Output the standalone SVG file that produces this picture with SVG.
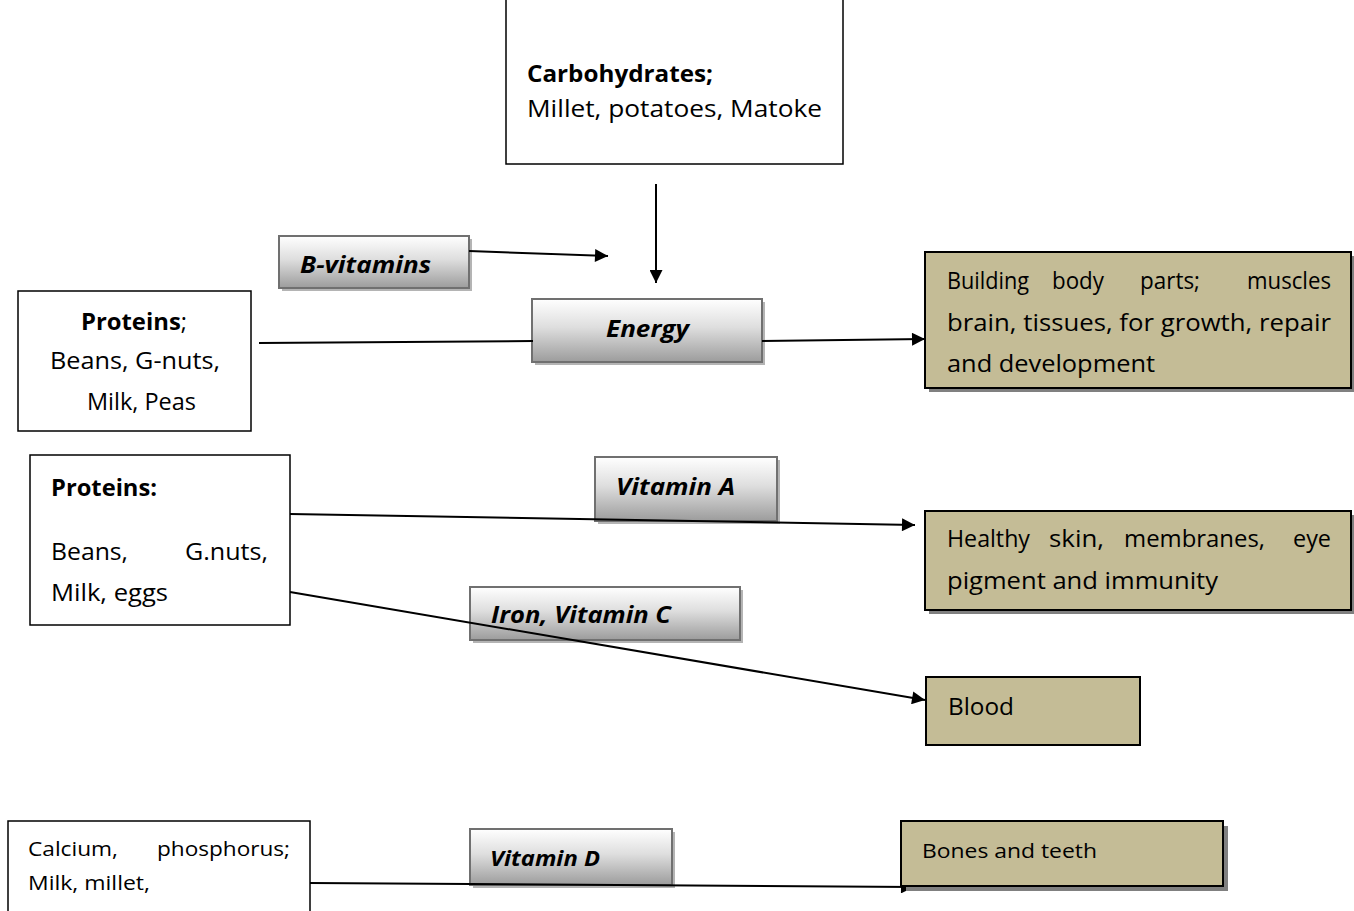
<svg xmlns="http://www.w3.org/2000/svg" width="1354" height="911" viewBox="0 0 1354 911">
<style>
.t{font-family:"Open Sans","Liberation Sans",sans-serif;font-size:23px;fill:#000}
.s{font-size:20px}
.b{font-weight:bold}
.bi{font-weight:bold;font-style:italic}
.wb{fill:#fff;stroke:#000;stroke-width:1.5}
.tan{fill:#c4bc96;stroke:#000;stroke-width:2}
.sh{fill:#808080}
.gb{fill:url(#g);stroke:#707070;stroke-width:2}
.gsh{fill:#b4b4b4}
.ln{stroke:#000;stroke-width:2;fill:none}
</style>
<defs>
<linearGradient id="g" x1="0" y1="0" x2="0" y2="1">
<stop offset="0" stop-color="#ffffff"/>
<stop offset="0.45" stop-color="#dedede"/>
<stop offset="1" stop-color="#9c9c9c"/>
</linearGradient>
<marker id="ah" viewBox="0 0 10 10" refX="10" refY="5" markerWidth="15" markerHeight="13" markerUnits="userSpaceOnUse" orient="auto">
<path d="M0,0 L10,5 L0,10 z" fill="#000"/>
</marker>
</defs>
<rect width="1354" height="911" fill="#fff"/>

<g id="carbohydrates">
<rect class="wb" x="506" y="-2" width="337" height="166"/>
<text class="t b" x="527" y="82" textLength="186" lengthAdjust="spacingAndGlyphs">Carbohydrates;</text>
<text class="t" x="527" y="117" textLength="295" lengthAdjust="spacingAndGlyphs">Millet, potatoes, Matoke</text>
</g>

<g id="b-vitamins">
<rect class="gsh" x="282" y="239" width="190" height="52"/>
<rect class="gb" x="279" y="236" width="190" height="52"/>
<text class="t bi" x="300" y="273" textLength="131" lengthAdjust="spacingAndGlyphs">B-vitamins</text>
</g>

<g id="energy">
<rect class="gsh" x="535" y="302" width="230" height="63"/>
<rect class="gb" x="532" y="299" width="230" height="63"/>
<text class="t bi" x="606" y="337" textLength="83" lengthAdjust="spacingAndGlyphs">Energy</text>
</g>

<g id="vitamin-a">
<rect class="gsh" x="598" y="460" width="182" height="64"/>
<rect class="gb" x="595" y="457" width="182" height="64"/>
<text class="t bi" x="616" y="495" textLength="119" lengthAdjust="spacingAndGlyphs">Vitamin A</text>
</g>

<g id="iron-vitamin-c">
<rect class="gsh" x="473" y="590" width="270" height="53"/>
<rect class="gb" x="470" y="587" width="270" height="53"/>
<text class="t bi" x="491" y="623" textLength="180" lengthAdjust="spacingAndGlyphs">Iron, Vitamin C</text>
</g>

<g id="vitamin-d">
<rect class="gsh" x="473" y="832" width="202" height="56"/>
<rect class="gb" x="470" y="829" width="202" height="56"/>
<text class="t bi" x="490" y="866" style="font-size:21px" textLength="110" lengthAdjust="spacingAndGlyphs">Vitamin D</text>
</g>

<g id="connectors">
<line class="ln" x1="656" y1="184" x2="656" y2="283" marker-end="url(#ah)"/>
<line class="ln" x1="469" y1="251" x2="608" y2="256" marker-end="url(#ah)"/>
<line class="ln" x1="259" y1="343" x2="533" y2="341"/>
<line class="ln" x1="762" y1="341" x2="925" y2="339" marker-end="url(#ah)"/>
<line class="ln" x1="290" y1="514" x2="915" y2="525" marker-end="url(#ah)"/>
<line class="ln" x1="290" y1="592" x2="925" y2="700" marker-end="url(#ah)"/>
<line class="ln" x1="310" y1="883" x2="914" y2="887" marker-end="url(#ah)"/>
</g>

<g id="proteins1">
<rect class="wb" x="18" y="291" width="233" height="140"/>
<text class="t" x="81" y="330" textLength="106" lengthAdjust="spacingAndGlyphs"><tspan class="b">Proteins</tspan>;</text>
<text class="t" x="50" y="369" textLength="170" lengthAdjust="spacingAndGlyphs">Beans, G-nuts,</text>
<text class="t" x="87" y="410" textLength="109" lengthAdjust="spacingAndGlyphs">Milk, Peas</text>
</g>

<g id="building">
<rect class="sh" x="929" y="256" width="426" height="136"/>
<rect class="tan" x="925" y="252" width="426" height="136"/>
<text class="t" y="289"><tspan x="947" textLength="82" lengthAdjust="spacingAndGlyphs">Building</tspan><tspan x="1052" textLength="52" lengthAdjust="spacingAndGlyphs">body</tspan><tspan x="1140" textLength="60" lengthAdjust="spacingAndGlyphs">parts;</tspan><tspan x="1247" textLength="84" lengthAdjust="spacingAndGlyphs">muscles</tspan></text>
<text class="t" x="947" y="331" textLength="384" lengthAdjust="spacingAndGlyphs">brain, tissues, for growth, repair</text>
<text class="t" x="947" y="372" textLength="208" lengthAdjust="spacingAndGlyphs">and development</text>
</g>

<g id="proteins2">
<rect class="wb" x="30" y="455" width="260" height="170"/>
<text class="t b" x="51" y="496" textLength="106" lengthAdjust="spacingAndGlyphs">Proteins:</text>
<text class="t" y="560"><tspan x="51" textLength="77" lengthAdjust="spacingAndGlyphs">Beans,</tspan><tspan x="185" textLength="83" lengthAdjust="spacingAndGlyphs">G.nuts,</tspan></text>
<text class="t" x="51" y="601" textLength="117" lengthAdjust="spacingAndGlyphs">Milk, eggs</text>
</g>

<g id="healthy">
<rect class="sh" x="929" y="515" width="426" height="99"/>
<rect class="tan" x="925" y="511" width="426" height="99"/>
<text class="t" y="547"><tspan x="947" textLength="83" lengthAdjust="spacingAndGlyphs">Healthy</tspan><tspan x="1049" textLength="55" lengthAdjust="spacingAndGlyphs">skin,</tspan><tspan x="1124" textLength="141" lengthAdjust="spacingAndGlyphs">membranes,</tspan><tspan x="1293" textLength="38" lengthAdjust="spacingAndGlyphs">eye</tspan></text>
<text class="t" x="947" y="589" textLength="271" lengthAdjust="spacingAndGlyphs">pigment and immunity</text>
</g>

<g id="blood">
<rect class="tan" x="926" y="677" width="214" height="68"/>
<text class="t" x="948" y="715" textLength="66" lengthAdjust="spacingAndGlyphs">Blood</text>
</g>

<g id="calcium">
<rect class="wb" x="8" y="821" width="302" height="100"/>
<text class="t s" y="856"><tspan x="28" textLength="90" lengthAdjust="spacingAndGlyphs">Calcium,</tspan><tspan x="157" textLength="133" lengthAdjust="spacingAndGlyphs">phosphorus;</tspan></text>
<text class="t s" x="28" y="890" textLength="122" lengthAdjust="spacingAndGlyphs">Milk, millet,</text>
</g>

<g id="bones">
<rect class="sh" x="906" y="826" width="322" height="65"/>
<rect class="tan" x="901" y="821" width="322" height="65"/>
<text class="t s" x="922" y="858" textLength="175" lengthAdjust="spacingAndGlyphs">Bones and teeth</text>
</g>
</svg>
